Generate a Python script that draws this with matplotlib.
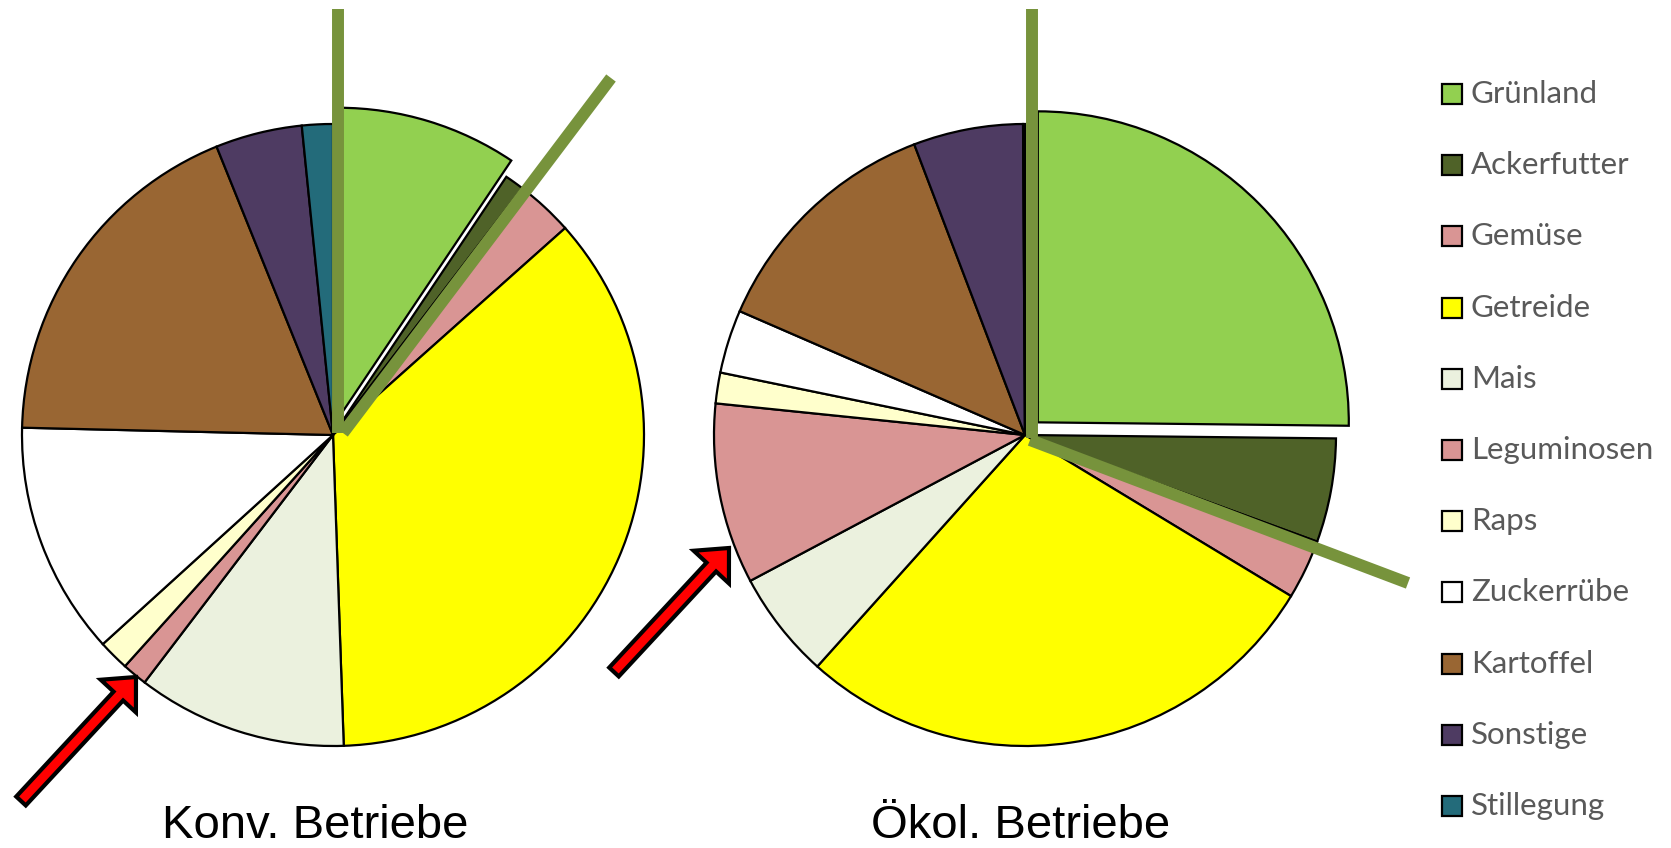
import numpy as np
import matplotlib.pyplot as plt
from matplotlib.patches import Rectangle, FancyArrow

# categories and shares (% of area)
kategorien = ['Grünland', 'Ackerfutter', 'Gemüse', 'Getreide', 'Mais', 'Leguminosen',
              'Raps', 'Zuckerrübe', 'Kartoffel', 'Sonstige', 'Stillegung']
konv = [9.4, 1.0, 3.0, 36.0, 10.9, 1.3, 1.6, 12.1, 18.5, 4.5, 1.6]
oeko = [25.2, 5.4, 3.1, 28.0, 5.6, 9.4, 1.6, 3.3, 12.7, 5.7, 0.1]
titel = ['Konv. Betriebe', 'Ökol. Betriebe']

farben = ['#92D050', '#4F6228', '#D99594', '#FFFF00', '#EBF1DE', '#D99594',
          '#FFFFCC', '#FFFFFF', '#996633', '#4E3B62', '#236B7A']

W, H = 1671, 848
fig = plt.figure(figsize=(W / 100, H / 100), dpi=100)
ax = fig.add_axes([0, 0, 1, 1])

# pixel y -> data y
def py(y):
    return H - y

radius = 311
zentren = [(333, py(435)), (1025, py(435))]
explode_konv = [17] + [0] * 10
explode_oeko = [18] + [0] * 10

for werte, mitte, expl in [(konv, zentren[0], explode_konv), (oeko, zentren[1], explode_oeko)]:
    ax.pie(werte, colors=farben, startangle=90, counterclock=False,
           center=mitte, radius=radius, explode=expl, frame=True,
           wedgeprops=dict(edgecolor='black', linewidth=1.6))

ax.set_xlim(0, W)
ax.set_ylim(0, H)
ax.set_aspect('equal')
ax.axis('off')

# olive marker lines
oliv = '#77933C'
linien = [((338, 9), (338, 433)), ((343, 433), (611, 78)),
          ((1032, 9), (1032, 438)), ((1030, 440), (1408, 583))]
for (x0, y0), (x1, y1) in linien:
    ax.plot([x0, x1], [py(y0), py(y1)], color=oliv, lw=8.6,
            solid_capstyle='butt', zorder=5)

# red arrows pointing at Leguminosen
pfeile = [((21, 801), (136, 677)), ((614, 672), (729, 548))]
for (x0, y0), (x1, y1) in pfeile:
    ax.add_patch(FancyArrow(x0, py(y0), x1 - x0, py(y1) - py(y0), width=13,
                            head_width=48, head_length=26, length_includes_head=True,
                            fc='#FF0000', ec='black', lw=3, zorder=6))

# titles under the pies
for t, x in zip(titel, [315, 1021]):
    ax.text(x, py(838), t, ha='center', va='baseline', fontsize=34,
            family='Liberation Sans', color='black')

# legend
for i, (k, c) in enumerate(zip(kategorien, farben)):
    yc = 94 + i * 71.2
    ax.add_patch(Rectangle((1442, py(yc) - 10), 20, 20, fc=c, ec='black', lw=1.6, zorder=4))
    ax.text(1471, py(yc), k, ha='left', va='center', fontsize=22.5,
            family='Lato', color='#595959')

fig.savefig('out.png', dpi=100)
